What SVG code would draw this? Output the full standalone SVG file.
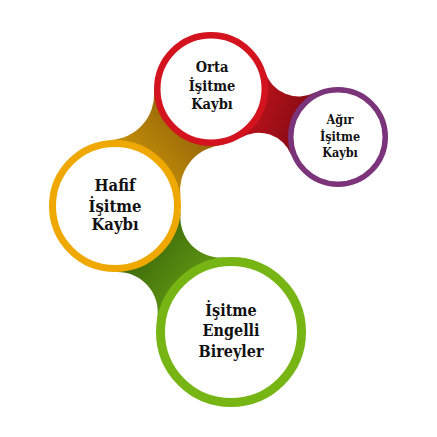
<svg xmlns="http://www.w3.org/2000/svg" width="437" height="437" viewBox="0 0 437 437">
<defs>
<linearGradient id="gHO" gradientUnits="userSpaceOnUse" x1="120" y1="190" x2="205" y2="110">
<stop offset="0" stop-color="#d8a20a"/><stop offset="1" stop-color="#8a5a08"/>
</linearGradient>
<linearGradient id="gOA" gradientUnits="userSpaceOnUse" x1="240" y1="100" x2="310" y2="125">
<stop offset="0" stop-color="#c8141c"/><stop offset="1" stop-color="#800a14"/>
</linearGradient>
<linearGradient id="gHG" gradientUnits="userSpaceOnUse" x1="150" y1="235" x2="225" y2="300">
<stop offset="0" stop-color="#3e6a0c"/><stop offset="1" stop-color="#6eaa14"/>
</linearGradient>
</defs>
<style>
.node circle{fill:#fff}
.lbl{font-family:"DejaVu Serif","Liberation Serif",serif;font-weight:bold;font-stretch:condensed;fill:#111;text-anchor:middle}
</style>
<rect width="437" height="437" fill="#fff"/>
<g id="connectors">
<path d="M111,140.1 A46,46 0 0 0 154.1,91.9 L219.3,145.4 A46,46 0 0 0 180.4,197.1 Z" fill="url(#gHO)"/>
<path d="M265.4,72 A35,35 0 0 0 314.9,92.6 L291.3,155.1 A35,35 0 0 0 240.5,137.8 Z" fill="url(#gOA)"/>
<path d="M180.6,213.1 A40,40 0 0 0 224,257.3 L157.1,319 A40,40 0 0 0 116.7,272 Z" fill="url(#gHG)"/>
</g>
<g id="node-orta" class="node">
<circle cx="211" cy="89" r="53.75" stroke="#d3141f" stroke-width="6.5"/>
<text class="lbl" font-size="14.5" x="212"><tspan x="212" y="72">Orta</tspan><tspan x="212" y="91">İşitme</tspan><tspan x="212" y="109">Kaybı</tspan></text>
</g>
<g id="node-agir" class="node">
<circle cx="338" cy="137" r="47.25" stroke="#7b3379" stroke-width="5.5"/>
<text class="lbl" font-size="12.5" x="340"><tspan x="340" y="124">Ağır</tspan><tspan x="340" y="141">İşitme</tspan><tspan x="340" y="157">Kaybı</tspan></text>
</g>
<g id="node-hafif" class="node">
<circle cx="115" cy="206" r="62.5" stroke="#eea800" stroke-width="7"/>
<text class="lbl" font-size="16.5" x="115"><tspan x="115" y="191">Hafif</tspan><tspan x="115" y="211.5">İşitme</tspan><tspan x="115" y="230">Kaybı</tspan></text>
</g>
<g id="node-engelli" class="node">
<circle cx="231" cy="332" r="70.5" stroke="#76b513" stroke-width="9"/>
<text class="lbl" font-size="16" x="231"><tspan x="231" y="315.5">İşitme</tspan><tspan x="231" y="336">Engelli</tspan><tspan x="231" y="356.5">Bireyler</tspan></text>
</g>
</svg>
